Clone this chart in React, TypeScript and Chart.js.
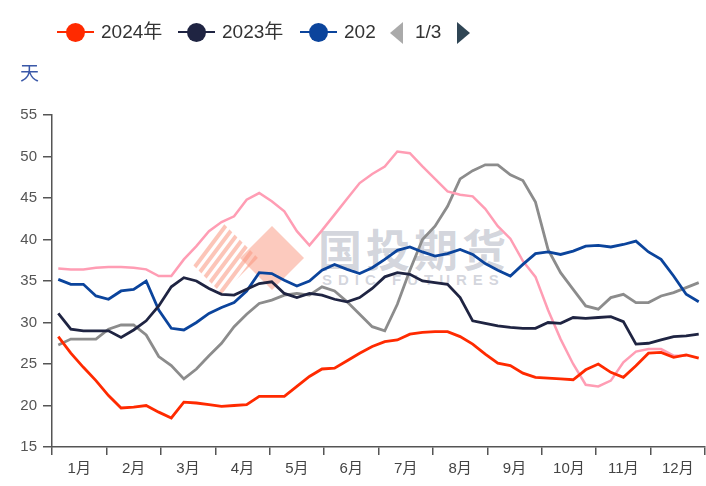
import React, { useEffect, useRef } from "react";
import { Chart, registerables } from "chart.js";

Chart.register(...registerables);

const FONT = "'Liberation Sans', Arial, 'Noto Sans CJK SC', sans-serif";

const months = ["1月", "2月", "3月", "4月", "5月", "6月", "7月", "8月", "9月", "10月", "11月", "12月"];
const weeks = Array.from({ length: 52 }, (_, i) => `第${i + 1}周`);

const s2024 = [28.3, 26.3, 24.6, 23.0, 21.2, 19.7, 19.8, 20.0, 19.2, 18.5,
  20.4, 20.3, 20.1, 19.9, 20.0, 20.1, 21.1, 21.1, 21.1, 22.3,
  23.5, 24.4, 24.5, 25.4, 26.3, 27.1, 27.7, 27.9, 28.6, 28.8,
  28.9, 28.9, 28.3, 27.4, 26.2, 25.1, 24.8, 23.9, 23.4, 23.3,
  23.2, 23.1, 24.3, 25.0, 24.0, 23.4, 24.8, 26.3, 26.4, 25.8,
  26.1, 25.7];
const s2023 = [31.1, 29.2, 29.0, 29.0, 29.0, 28.2, 29.1, 30.2, 32.0, 34.3,
  35.4, 35.0, 34.1, 33.4, 33.3, 34.0, 34.7, 34.9, 33.5, 33.0,
  33.5, 33.3, 32.8, 32.5, 33.0, 34.1, 35.5, 36.0, 35.8, 35.0,
  34.8, 34.6, 33.0, 30.2, 29.9, 29.6, 29.4, 29.3, 29.3, 30.0,
  29.9, 30.6, 30.5, 30.6, 30.7, 30.1, 27.4, 27.5, 27.9, 28.3,
  28.4, 28.6];
const s2022 = [35.2, 34.6, 34.6, 33.2, 32.8, 33.8, 34.0, 35.0, 31.5, 29.3,
  29.1, 30.0, 31.1, 31.8, 32.4, 33.8, 36.0, 35.9, 35.1, 34.4,
  35.0, 36.3, 37.0, 36.4, 35.9, 36.6, 37.6, 38.7, 39.1, 38.5,
  38.0, 38.3, 38.8, 38.2, 37.1, 36.3, 35.6, 37.0, 38.3, 38.5,
  38.2, 38.6, 39.2, 39.3, 39.1, 39.4, 39.8, 38.5, 37.6, 35.6,
  33.4, 32.5];
const s2021 = [36.5, 36.4, 36.4, 36.6, 36.7, 36.7, 36.6, 36.4, 35.6, 35.6,
  37.6, 39.2, 41.0, 42.1, 42.8, 44.8, 45.6, 44.6, 43.4, 41.0,
  39.3, 41.1, 43.0, 44.9, 46.8, 47.9, 48.8, 50.6, 50.4, 48.8,
  47.3, 45.8, 45.4, 45.2, 43.7, 41.6, 40.1, 37.4, 35.5, 31.5,
  28.0, 25.0, 22.5, 22.3, 23.0, 25.2, 26.5, 26.8, 26.8, 26.0,
  26.0, null];
const s2020 = [27.3, 28.0, 28.0, 28.0, 29.2, 29.7, 29.7, 28.5, 25.9, 24.8,
  23.2, 24.4, 26.0, 27.5, 29.5, 31.0, 32.3, 32.7, 33.3, 33.5,
  33.3, 34.3, 33.8, 32.5, 31.0, 29.5, 29.0, 32.2, 36.3, 40.0,
  41.6, 44.0, 47.3, 48.3, 49.0, 49.0, 47.8, 47.1, 44.5, 38.8,
  36.0, 34.0, 32.0, 31.6, 33.0, 33.4, 32.4, 32.4, 33.2, 33.6,
  34.2, 34.8];

const seriesNames = ["2024年", "2023年", "2022年", "2021年", "2020年"];
const seriesColors = ["#ff2a00", "#1f2442", "#0b449c", "#ff9db4", "#8c8c8c"];
const seriesData = [s2024, s2023, s2022, s2021, s2020];

const legendItems = [
  { text: "2024年", color: "#ff2a00", x: 57 },
  { text: "2023年", color: "#1f2442", x: 178 },
  { text: "202", color: "#0b449c", x: 300 },
];

export default function App() {
  const ref = useRef<HTMLCanvasElement | null>(null);

  useEffect(() => {
    if (!ref.current) return;
    const chart = new Chart(ref.current, {
      type: "line",
      data: {
        labels: weeks,
        datasets: seriesData.map((d, i) => ({
          label: seriesNames[i],
          data: d,
          borderColor: seriesColors[i],
          backgroundColor: seriesColors[i],
          borderWidth: i === 3 ? 2.5 : 2.8,
          pointRadius: 0,
          tension: 0,
          xAxisID: "xw",
          yAxisID: "y",
        })),
      },
      options: {
        responsive: false,
        animation: false,
        devicePixelRatio: 1,
        layout: { padding: { top: 115, right: 1, left: 0, bottom: 0 } },
        plugins: { legend: { display: false }, tooltip: { enabled: false } },
        scales: {
          x: {
            type: "category",
            labels: months,
            offset: true,
            position: "bottom",
            grid: { offset: true, drawOnChartArea: false, tickLength: 8, color: "#555", lineWidth: 1.5 },
            border: { color: "#555", width: 1.5 },
            ticks: { color: "#444", font: { size: 15, family: FONT }, padding: 5, maxRotation: 0, autoSkip: false },
            afterFit: (s: any) => { s.height = 39; },
          },
          xw: {
            type: "category",
            offset: true,
            display: false,
          },
          y: {
            min: 15,
            max: 55,
            ticks: { stepSize: 5, color: "#555", font: { size: 15, family: FONT }, padding: 6 },
            grid: { drawOnChartArea: false, tickLength: 9, color: "#555", lineWidth: 1.5 },
            border: { color: "#555", width: 1.5 },
            afterFit: (s: any) => { s.width = 52; },
          },
        },
      } as any,
    });
    return () => chart.destroy();
  }, []);

  return (
    <div style={{ position: "fixed", left: 0, top: 0, width: 706, height: 486, background: "#fff", overflow: "hidden", fontFamily: FONT }}>
      {/* watermark */}
      <svg width={706} height={486} style={{ position: "absolute", left: 0, top: 0 }}>
        <defs>
          <clipPath id="lclip">
            <polygon points="222,222 258,258 222,294 186,258" />
          </clipPath>
        </defs>
        <g clipPath="url(#lclip)" stroke="rgba(250,150,125,0.55)" strokeWidth={4}>
          {[0, 1, 2, 3, 4, 5, 6, 7, 8, 9].map((k) => (
            <line key={k} x1={170 + k * 9} y1={300} x2={230 + k * 9} y2={220} />
          ))}
        </g>
        <polygon points="272,226 304,258 272,290 240,258" fill="rgba(250,150,125,0.5)" />
      </svg>
      <div style={{ position: "absolute", left: 318, top: 222, fontSize: 44, letterSpacing: 4, color: "rgba(150,155,172,0.42)", fontFamily: "'Noto Sans CJK SC', sans-serif", fontWeight: 700, lineHeight: "52px" }}>国投期货</div>
      <div style={{ position: "absolute", left: 322, top: 271, fontSize: 15, letterSpacing: 6, color: "rgba(150,155,172,0.42)", fontWeight: 700, lineHeight: "18px" }}>SDIC FUTURES</div>
      <canvas ref={ref} width={706} height={486} style={{ position: "absolute", left: 0, top: 0, width: 706, height: 486 }} />
      {/* legend */}
      {legendItems.map((it) => (
        <div key={it.text} style={{ position: "absolute", left: it.x, top: 20, height: 24 }}>
          <div style={{ position: "absolute", left: 0, top: 11, width: 37, height: 2, background: it.color }} />
          <div style={{ position: "absolute", left: 9, top: 3, width: 19, height: 19, borderRadius: "50%", background: it.color }} />
          <div style={{ position: "absolute", left: 44, top: 0, fontSize: 19, lineHeight: "24px", color: "#333", whiteSpace: "nowrap" }}>{it.text}</div>
        </div>
      ))}
      <svg width={16} height={24} style={{ position: "absolute", left: 389, top: 21 }}>
        <polygon points="14,1 14,23 1,12" fill="#aaa" />
      </svg>
      <div style={{ position: "absolute", left: 415, top: 20, fontSize: 19, lineHeight: "24px", color: "#333" }}>1/3</div>
      <svg width={16} height={24} style={{ position: "absolute", left: 456, top: 21 }}>
        <polygon points="1,1 1,23 14,12" fill="#2f4554" />
      </svg>
      <div style={{ position: "absolute", left: 20, top: 60, fontSize: 19, lineHeight: "24px", color: "#3a58a8", fontFamily: "'Noto Sans CJK SC', sans-serif" }}>天</div>
    </div>
  );
}
